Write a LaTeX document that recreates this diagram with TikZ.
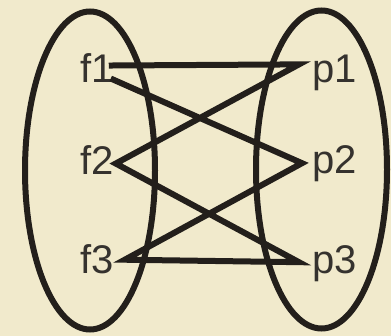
\documentclass[tikz,border=0pt]{standalone}
\usepackage{fontspec}
\setmainfont{Liberation Sans}
\definecolor{parchment}{HTML}{F1EACC}
\definecolor{inkline}{HTML}{231F1B}
\definecolor{inktext}{HTML}{35322E}
\newcommand{\setLabel}[1]{\fontsize{40}{46}\selectfont #1}

\begin{document}
\begin{tikzpicture}[x=1pt,y=-1pt,
  elem/.style={anchor=base west, inner sep=0pt, text=inktext},
  link/.style={draw=inkline, line width=6pt, line join=miter},
  setring/.style={draw=inkline, line width=6pt}]
\fill[parchment] (0,0) rectangle (391,336);
\useasboundingbox (0,0) rectangle (391,336);
\draw[setring] (90,170.5) ellipse [x radius=65, y radius=159];
\draw[setring] (321.5,169.5) ellipse [x radius=65.5, y radius=159];
\node[elem] (f1) at (80,83) {\setLabel{f1}};
\node[elem] (f2) at (80,175) {\setLabel{f2}};
\node[elem] (f3) at (80,274) {\setLabel{f3}};
\node[elem] (p1) at (312,83) {\setLabel{p1}};
\node[elem] (p2) at (312,174) {\setLabel{p2}};
\node[elem] (p3) at (312,274) {\setLabel{p3}};
\draw[link] ([xshift=-5pt,yshift=3pt]f1.east) -- ([xshift=-13pt,yshift=9pt]p1.west)
  -- ([xshift=2pt,yshift=-3pt]f2.east) -- ([xshift=-13pt,yshift=2pt]p3.west)
  -- ([xshift=11pt,yshift=0pt]f3.east) -- ([xshift=-10pt,yshift=1pt]p2.west)
  -- ([xshift=-3pt,yshift=-10pt]f1.east);
\end{tikzpicture}
\end{document}
